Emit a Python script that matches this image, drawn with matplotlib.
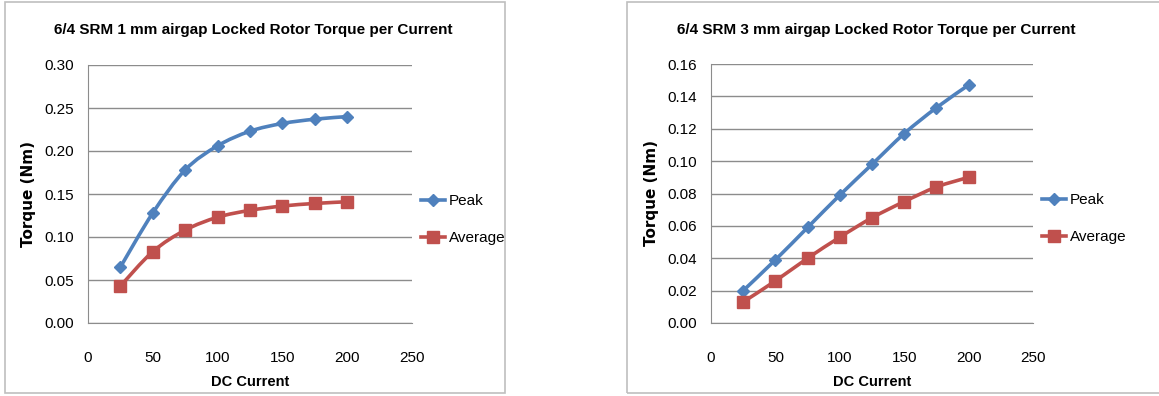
import matplotlib
matplotlib.use("Agg")
import matplotlib.pyplot as plt
import numpy as np
from matplotlib.patches import Rectangle, PathPatch
from matplotlib.path import Path
from matplotlib.lines import Line2D

plt.rcParams['font.family'] = ['Liberation Sans', 'DejaVu Sans']

# data
current = [25, 50, 75, 100, 125, 150, 175, 200]
peak_1mm = [0.065, 0.128, 0.178, 0.206, 0.223, 0.232, 0.237, 0.240]
avg_1mm = [0.043, 0.083, 0.108, 0.123, 0.131, 0.136, 0.139, 0.141]
peak_3mm = [0.020, 0.039, 0.059, 0.079, 0.098, 0.117, 0.133, 0.147]
avg_3mm = [0.013, 0.026, 0.040, 0.053, 0.065, 0.075, 0.084, 0.090]

titles = ["6/4 SRM 1 mm airgap Locked Rotor Torque per Current",
          "6/4 SRM 3 mm airgap Locked Rotor Torque per Current"]
yticks_1mm = [0.00, 0.05, 0.10, 0.15, 0.20, 0.25, 0.30]
yticks_3mm = [0.00, 0.02, 0.04, 0.06, 0.08, 0.10, 0.12, 0.14, 0.16]
xticks = [0, 50, 100, 150, 200, 250]

BLUE = "#4F81BD"
RED = "#C0504D"
GRID = "#8C8C8C"


def smooth_path(ax, xs, ys, color):
    """Excel-style smoothed line through data points (cubic Bezier in display space)."""
    pts = ax.transData.transform(np.column_stack([xs, ys]))
    verts = [pts[0]]
    codes = [Path.MOVETO]
    n = len(pts)
    for i in range(n - 1):
        p0 = pts[i - 1] if i > 0 else pts[i]
        p1, p2 = pts[i], pts[i + 1]
        p3 = pts[i + 2] if i + 2 < n else pts[i + 1]
        c1 = p1 + (p2 - p0) / 6.0
        c2 = p2 - (p3 - p1) / 6.0
        verts += [c1, c2, p2]
        codes += [Path.CURVE4] * 3
    path = Path(verts, codes)
    patch = PathPatch(path, facecolor="none", edgecolor=color, lw=2.6,
                      transform=None, zorder=3)
    ax.add_artist(patch)


fig = plt.figure(figsize=(11.59, 3.96), dpi=100)
W, H = 1159, 396

# chart frames
fig.patches.append(Rectangle((5 / W, 1 - 393 / H), 500 / W, 391 / H,
                             transform=fig.transFigure, fill=False,
                             edgecolor="#BFBFBF", lw=1.2))
fig.patches.append(Rectangle((627 / W, 1 - 393 / H), 540 / W, 391 / H,
                             transform=fig.transFigure, fill=False,
                             edgecolor="#BFBFBF", lw=1.2))

panels = [
    dict(rect=[88 / W, 1 - 323 / H, 324 / W, 258 / H], peak=peak_1mm, avg=avg_1mm,
         yt=yticks_1mm, title=titles[0], tx=253 / W, lx=421 / W, ly=194 / H),
    dict(rect=[711 / W, 1 - 323 / H, 322 / W, 259 / H], peak=peak_3mm, avg=avg_3mm,
         yt=yticks_3mm, title=titles[1], tx=876 / W, lx=1042 / W, ly=193 / H),
]

for p in panels:
    ax = fig.add_axes(p["rect"])
    ax.set_xlim(0, 250)
    ax.set_ylim(p["yt"][0], p["yt"][-1])
    ax.set_xticks(xticks)
    ax.set_yticks(p["yt"])
    ax.set_yticklabels([f"{v:.2f}" for v in p["yt"]])
    ax.tick_params(length=0, labelsize=11)
    ax.tick_params(axis="y", pad=10)
    ax.tick_params(axis="x", pad=20)
    ax.grid(axis="y", color=GRID, lw=1)
    ax.set_axisbelow(True)
    for s in ["top", "right"]:
        ax.spines[s].set_visible(False)
    for s in ["left", "bottom"]:
        ax.spines[s].set_color(GRID)
    ax.set_xlabel("DC Current", fontsize=10.5, fontweight="bold", labelpad=7)
    ax.set_ylabel("Torque (Nm)", fontsize=11, fontweight="bold",
                  family=["DejaVu Sans"], labelpad=6)

    smooth_path(ax, current, p["peak"], BLUE)
    smooth_path(ax, current, p["avg"], RED)
    ax.plot(current, p["peak"], ls="none", marker="D", ms=6.5, color=BLUE, zorder=4)
    ax.plot(current, p["avg"], ls="none", marker="s", ms=8, color=RED, zorder=4)

    fig.text(p["tx"], 1 - 30 / H, p["title"], ha="center", va="center",
             fontsize=11, fontweight="bold")

    handles = [Line2D([], [], color=BLUE, lw=2.6, marker="D", ms=6.5),
               Line2D([], [], color=RED, lw=2.6, marker="s", ms=8)]
    fig.legend(handles, ["Peak", "Average"], loc="upper left",
               bbox_to_anchor=(p["lx"], 1 - p["ly"]), frameon=False,
               fontsize=11, handlelength=1.6, handletextpad=0.2,
               labelspacing=1.5, borderaxespad=0, borderpad=0)

fig.savefig("out.png", dpi=100)
